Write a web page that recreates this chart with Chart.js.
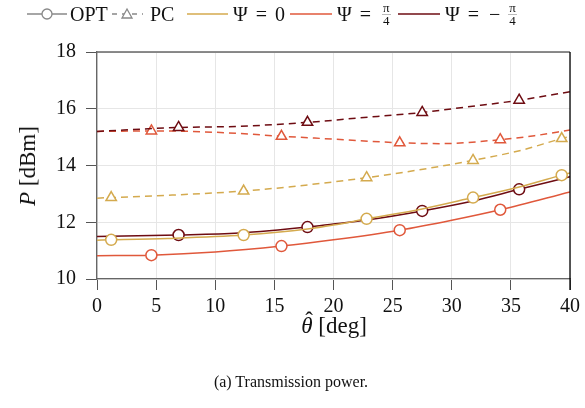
<!DOCTYPE html>
<html>
<head>
<meta charset="utf-8">
<script src="https://cdn.jsdelivr.net/npm/chart.js@4.4.1/dist/chart.umd.min.js"></script>
<style>
    body { margin: 0; background: #fff; font-family: "Liberation Serif", "DejaVu Serif", serif; color: #111; }
    #wrap { position: relative; width: 585px; height: 408px; overflow: hidden; }
    canvas { position: absolute; left: 0; top: 0; }
    .txt { position: absolute; white-space: nowrap; }
    .leg { position: absolute; top: 1px; height: 26px; display: flex; align-items: center; font-size: 20px; white-space: nowrap; }
    .leg svg { display: block; }
    .eq { margin: 0 8px; }
    .frac { display: inline-flex; flex-direction: column; align-items: center; font-size: 13px; line-height: 12px; margin-left: 3px; }
    .frac .num { border-bottom: 0.6px solid #bbb; padding: 0 1px; }
    .hat { position: relative; display: inline-block; font-style: italic; }
    .hat::after { content: "\02C6"; position: absolute; left: 4px; top: -5px; font-style: normal; }
</style>
</head>
<body>
<div id="wrap">
    <canvas id="powerChart" width="585" height="408"></canvas>

    <div class="leg" style="left:27px"><svg width="40" height="14"><line x1="0" y1="7" x2="40" y2="7" stroke="#888" stroke-width="1.3"/><circle cx="20" cy="7" r="5" fill="#fff" stroke="#888" stroke-width="1.3"/></svg></div>
    <div class="leg" style="left:70px">OPT</div>
    <div class="leg" style="left:111px"><svg width="32" height="14"><line x1="0" y1="7" x2="32" y2="7" stroke="#888" stroke-width="1.3" stroke-dasharray="5,5" stroke-dashoffset="-1"/><polygon points="16,2 21,11 11,11" fill="#fff" stroke="#888" stroke-width="1.3"/></svg></div>
    <div class="leg" style="left:150px">PC</div>
    <div class="leg" style="left:187px"><svg width="41" height="14"><line x1="0" y1="7" x2="41" y2="7" stroke="#d4aa4e" stroke-width="1.5"/></svg></div>
    <div class="leg" style="left:233px">&Psi;<span class="eq">=</span>0</div>
    <div class="leg" style="left:290px"><svg width="42" height="14"><line x1="0" y1="7" x2="42" y2="7" stroke="#e0583b" stroke-width="1.5"/></svg></div>
    <div class="leg" style="left:337px">&Psi;<span class="eq">=</span><span class="frac"><span class="num">&pi;</span><span>4</span></span></div>
    <div class="leg" style="left:398px"><svg width="42" height="14"><line x1="0" y1="7" x2="42" y2="7" stroke="#6e0c12" stroke-width="1.5"/></svg></div>
    <div class="leg" style="left:445px">&Psi;<span class="eq">=</span><span style="margin-left:2px">&minus;</span><span class="frac" style="margin-left:8px"><span class="num">&pi;</span><span>4</span></span></div>

    <div class="txt" id="ytitle" style="left:28px; top:166px; font-size:23px; transform: translate(-50%, -50%) rotate(-90deg);"><i>P</i> [dBm]</div>
    <div class="txt" id="xtitle" style="left:334px; top:326px; font-size:23px; transform: translate(-50%, -50%);"><span class="hat">&theta;</span> [deg]</div>
    <div class="txt" id="caption" style="left:291px; top:382px; font-size:16px; transform: translate(-50%, -50%);">(a) Transmission power.</div>
</div>

<script>
// optimal power, one theta grid per curve (markers sit on some of the points)
const optTheta0 = [0, 1.2, 6, 12.4, 17.8, 20, 22.8, 27.5, 31.8, 35.7, 39.3, 40];
const optP0     = [11.37, 11.38, 11.43, 11.55, 11.76, 11.9, 12.12, 12.47, 12.87, 13.24, 13.66, 13.74];
const optMarks0 = [1.2, 12.4, 22.8, 31.8, 39.3];

const optThetaPos = [0, 4.6, 10, 15.6, 20, 25.6, 30, 34.1, 40];
const optPPos     = [10.82, 10.84, 10.95, 11.16, 11.38, 11.72, 12.07, 12.44, 13.07];
const optMarksPos = [4.6, 15.6, 25.6, 34.1];

const optThetaNeg = [0, 6.9, 12, 17.8, 20, 22.8, 27.5, 31.8, 35.7, 40];
const optPNeg     = [11.5, 11.55, 11.62, 11.83, 11.94, 12.08, 12.4, 12.75, 13.16, 13.6];
const optMarksNeg = [6.9, 17.8, 27.5, 35.7];

// power control baseline
const pcTheta0 = [0, 1.2, 6, 12.4, 17, 22.8, 27, 31.8, 36, 39.3, 40];
const pcP0     = [12.85, 12.87, 12.95, 13.1, 13.28, 13.57, 13.83, 14.18, 14.55, 14.95, 15.02];
const pcMarks0 = [1.2, 12.4, 22.8, 31.8, 39.3];

const pcThetaPos = [0, 4.6, 8, 12, 15.6, 20, 25.6, 29, 34.1, 37, 40];
const pcPPos     = [15.2, 15.22, 15.2, 15.13, 15.03, 14.93, 14.8, 14.77, 14.91, 15.05, 15.25];
const pcMarksPos = [4.6, 15.6, 25.6, 34.1];

const pcThetaNeg = [0, 6.9, 12, 17.8, 22, 27.5, 31, 35.7, 40];
const pcPNeg     = [15.2, 15.34, 15.38, 15.52, 15.67, 15.87, 16.05, 16.3, 16.6];
const pcMarksNeg = [6.9, 17.8, 27.5, 35.7];

const xTicks = [0, 5, 10, 15, 20, 25, 30, 35, 40];
const yTicks = [10, 12, 14, 16, 18];

const YELLOW = '#d4aa4e';
const RED = '#e0583b';
const DARK = '#6e0c12';

const series = (theta, p, marks, color, dashed, style) => ({
    data: theta.map((t, i) => ({ x: t, y: p[i] })),
    borderColor: color,
    borderWidth: 1.5,
    borderDash: dashed ? [7, 5] : [],
    cubicInterpolationMode: 'monotone',
    pointStyle: style,
    pointRadius: ctx => marks.includes(ctx.raw.x) ? (style === 'triangle' ? 6 : 5.5) : 0,
    pointHoverRadius: 0,
    pointBackgroundColor: '#fff',
    pointBorderColor: color,
    pointBorderWidth: 1.5,
    fill: false
});

const serif = { family: '"Liberation Serif", serif', size: 20 };

// top border in grey, right border in black
const frame = {
    id: 'frame',
    afterDraw(chart) {
        const { ctx, chartArea: a } = chart;
        ctx.save();
        ctx.lineWidth = 1.3;
        ctx.strokeStyle = '#666';
        ctx.beginPath();
        ctx.moveTo(a.left, a.top);
        ctx.lineTo(a.right, a.top);
        ctx.stroke();
        ctx.strokeStyle = '#000';
        ctx.beginPath();
        ctx.moveTo(a.right, a.top);
        ctx.lineTo(a.right, a.bottom + 11);
        ctx.stroke();
        ctx.restore();
    }
};

window.onload = () => {
    const ctx = document.getElementById('powerChart').getContext('2d');

    new Chart(ctx, {
        type: 'line',
        data: {
            datasets: [
                series(pcThetaNeg, pcPNeg, pcMarksNeg, DARK, true, 'triangle'),
                series(pcThetaPos, pcPPos, pcMarksPos, RED, true, 'triangle'),
                series(pcTheta0, pcP0, pcMarks0, YELLOW, true, 'triangle'),
                series(optThetaPos, optPPos, optMarksPos, RED, false, 'circle'),
                series(optTheta0, optP0, optMarks0, YELLOW, false, 'circle'),
                series(optThetaNeg, optPNeg, optMarksNeg, DARK, false, 'circle')
            ]
        },
        options: {
            responsive: false,
            animation: false,
            layout: { padding: { left: 0, right: 12, top: 52, bottom: 89 } },
            plugins: { legend: { display: false }, tooltip: { enabled: false } },
            scales: {
                x: {
                    type: 'linear',
                    min: 0, max: 40,
                    afterBuildTicks: s => { s.ticks = xTicks.map(v => ({ value: v })); },
                    afterFit: s => { s.height = 40; },
                    ticks: { font: serif, color: '#111', padding: 5, maxRotation: 0 },
                    grid: { color: '#e6e6e6', tickColor: '#555', tickLength: 11, lineWidth: 1 },
                    border: { color: '#666', width: 1.3 }
                },
                y: {
                    min: 10, max: 18,
                    afterBuildTicks: s => { s.ticks = yTicks.map(v => ({ value: v })); },
                    afterFit: s => { s.width = 97; },
                    ticks: { font: serif, color: '#111', padding: 10 },
                    grid: { color: '#e6e6e6', tickColor: '#555', tickLength: 11, lineWidth: 1 },
                    border: { color: '#666', width: 1.3 }
                }
            }
        },
        plugins: [frame]
    });
};
</script>
</body>
</html>
